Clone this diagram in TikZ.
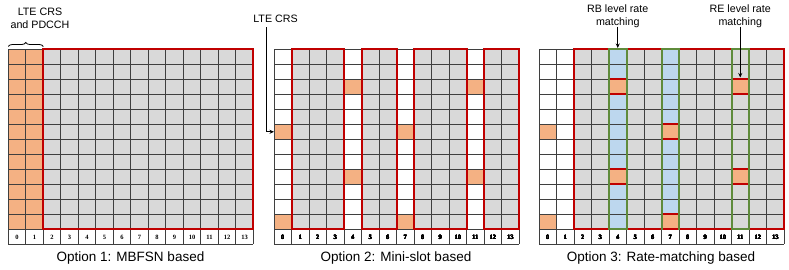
\documentclass[tikz,border=0pt]{standalone}
\usepackage{fontspec}
\setmainfont{Liberation Sans}
\newfontfamily\numfont{Liberation Serif}
\usetikzlibrary{arrows.meta,decorations.pathreplacing}
\definecolor{cellgray}{HTML}{D9D9D9}
\definecolor{cellorange}{HTML}{F4B183}
\definecolor{cellblue}{HTML}{BDD7EE}
\definecolor{redline}{HTML}{C00000}
\definecolor{greenline}{HTML}{5F8B3B}
\definecolor{gridline}{HTML}{3F3F3F}
\tikzset{
  gridln/.style={draw=gridline, line width=0.8pt},
  redbox/.style={draw=redline, line width=2pt},
  greenbox/.style={draw=greenline, line width=2pt},
  redmark/.style={draw=redline, line width=2pt},
  numlbl/.style={font=\numfont\bfseries\fontsize{6.5}{7}\selectfont, inner sep=0pt},
  toplbl/.style={font=\fontsize{10.7}{13}\selectfont, align=center, inner sep=0pt},
  caplbl/.style={font=\fontsize{13.5}{16}\selectfont, inner sep=0pt},
  arr/.style={-{Stealth[length=4.5pt,width=4pt]}, line width=0.9pt, black},
}
\newcommand{\orangecell}[2]{\fill[cellorange] (#1*17.5,49.3+#2*15) rectangle +(17.5,15);}
\newcommand{\gridlinesnums}[1]{%
  \foreach \i in {0,...,14} \draw[gridln] (\i*17.5,49.3) -- (\i*17.5,244.3);
  \foreach \j in {0,...,12} \draw[gridln] (0,49.3+\j*15) -- (245,49.3+\j*15);
  \draw[gridln] (0,244.3) -- (245,244.3);
  \foreach \i in {0,...,13} \node[numlbl] (#1n\i) at (\i*17.5+8.75,237.0) {\i};
}
\begin{document}
\begin{tikzpicture}[x=1pt,y=-1pt]
\useasboundingbox (0,0) rectangle (789,270);
\fill[white] (0,0) rectangle (789,270);

% ---------- Grid 1 ----------
\begin{scope}[shift={(8.3,0)}]
  \fill[cellorange] (0,49.3) rectangle (35,229.3);
  \fill[cellgray] (35,49.3) rectangle (245,229.3);
  \gridlinesnums{ga}
  \draw[redbox] (35,49.3) rectangle (245,229.3);
  \draw[decorate, decoration={brace, amplitude=4pt}, line width=0.8pt] (0,46.5) -- (35,46.5);
\end{scope}
\node[toplbl] (lbla) at (40,18.5) {LTE CRS\\and PDCCH};
\node[caplbl] (capa) at (130.5,258) {Option 1: MBFSN based};

% ---------- Grid 2 ----------
\begin{scope}[shift={(274,0)}]
  \foreach \a/\b in {17.5/70, 87.5/122.5, 140/192.5, 210/245}
    \fill[cellgray] (\a,49.3) rectangle (\b,229.3);
  \foreach \c/\r in {0/5,0/11,7/5,7/11,4/2,4/8,11/2,11/8} \orangecell{\c}{\r}
  \gridlinesnums{gb}
  \foreach \a/\b in {17.5/70, 87.5/122.5, 140/192.5, 210/245}
    \draw[redbox] (\a,49.3) rectangle (\b,229.3);
  \coordinate (crsend) at (0,131.8);
\end{scope}
\node[toplbl] (lblb) at (275.5,19) {LTE CRS};
\coordinate (crsstart) at (266.7,27.5);
\draw[arr] (crsstart) |- (crsend);
\node[caplbl] (capb) at (396,258) {Option 2: Mini-slot based};

% ---------- Grid 3 ----------
\begin{scope}[shift={(539,0)}]
  \fill[cellgray] (35,49.3) rectangle (245,229.3);
  \fill[cellblue] (70,49.3) rectangle (87.5,229.3);
  \fill[cellblue] (122.5,49.3) rectangle (140,229.3);
  \foreach \c/\r in {0/5,0/11,7/5,7/11,4/2,4/8,11/2,11/8} \orangecell{\c}{\r}
  \gridlinesnums{gc}
  \draw[redbox] (35,49.3) rectangle (245,229.3);
  \foreach \c in {4,7,11}
    \draw[greenbox] (\c*17.5,49.3) rectangle (\c*17.5+17.5,229.3);
  \foreach \c/\r in {7/5,7/11,4/2,4/8,11/2,11/8} {
    \draw[redmark] (\c*17.5+1,49.3+\r*15) -- (\c*17.5+16.5,49.3+\r*15);
    \draw[redmark] (\c*17.5+1,64.3+\r*15) -- (\c*17.5+16.5,64.3+\r*15);
  }
  \coordinate (rbend) at (78.75,48.0);
  \coordinate (reend) at (201.25,77.5);
\end{scope}
\node[toplbl] (lblc) at (617.75,16.5) {RB level rate\\matching};
\node[toplbl] (lbld) at (740.25,16.5) {RE level rate\\matching};
\draw[arr] (lblc.south) ++(0,-1.5) -- (rbend);
\draw[arr] (lbld.south) ++(0,-1.5) -- (reend);
\node[caplbl] (capc) at (661,258) {Option 3: Rate-matching based};
\end{tikzpicture}
\end{document}
